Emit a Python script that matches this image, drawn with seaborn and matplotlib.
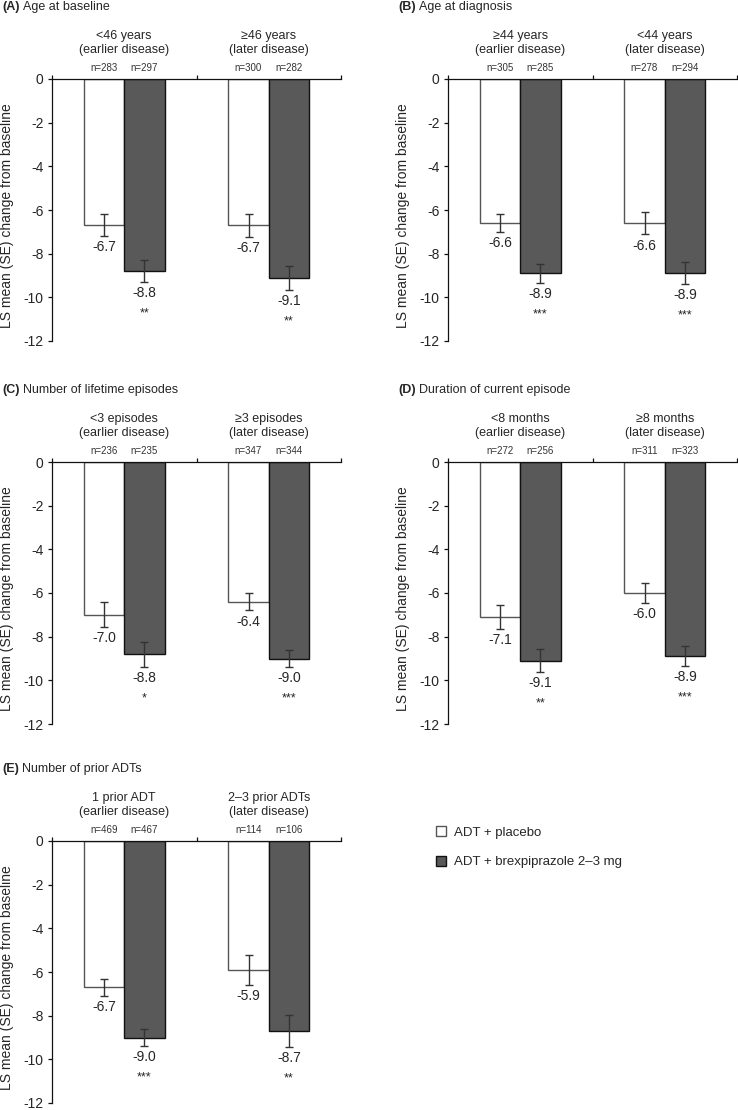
import pandas as pd
import matplotlib
matplotlib.use("Agg")
import matplotlib.pyplot as plt
import seaborn as sns

panel_letters = ["A", "B", "C", "D", "E"]
panel_titles = ["Age at baseline", "Age at diagnosis", "Number of lifetime episodes",
                "Duration of current episode", "Number of prior ADTs"]
group_labels = [
    ["<46 years\n(earlier disease)", "≥46 years\n(later disease)"],
    ["≥44 years\n(earlier disease)", "<44 years\n(later disease)"],
    ["<3 episodes\n(earlier disease)", "≥3 episodes\n(later disease)"],
    ["<8 months\n(earlier disease)", "≥8 months\n(later disease)"],
    ["1 prior ADT\n(earlier disease)", "2–3 prior ADTs\n(later disease)"],
]
arms = ["ADT + placebo", "ADT + brexpiprazole 2–3 mg"]

n_placebo = [[283, 300], [305, 278], [236, 347], [272, 311], [469, 114]]
n_brex = [[297, 282], [285, 294], [235, 344], [256, 323], [467, 106]]
mean_placebo = [[-6.7, -6.7], [-6.6, -6.6], [-7.0, -6.4], [-7.1, -6.0], [-6.7, -5.9]]
mean_brex = [[-8.8, -9.1], [-8.9, -8.9], [-8.8, -9.0], [-9.1, -8.9], [-9.0, -8.7]]
se_placebo = [[0.50, 0.52], [0.42, 0.52], [0.57, 0.40], [0.55, 0.45], [0.40, 0.70]]
se_brex = [[0.50, 0.55], [0.43, 0.50], [0.57, 0.40], [0.52, 0.45], [0.38, 0.72]]
stars = [["**", "**"], ["***", "***"], ["*", "***"], ["**", "***"], ["***", "**"]]

sns.set_style("ticks")
plt.rcParams["font.family"] = ["Liberation Sans", "DejaVu Sans"]
plt.rcParams["axes.unicode_minus"] = False

FS_TICK = 10
FS_VAL = 10
FS_GRP = 9
FS_TITLE = 9
colors = {arms[0]: "white", arms[1]: "#595959"}
edges = ["#555555", "#111111"]

fig = plt.figure(figsize=(7.38, 11.1), dpi=100)
W, H = 738, 1110
ax_w, ax_h = 289, 262
# axes positions in pixels: (left, y of zero line)
pos = [(52, 79), (448, 79), (52, 462), (448, 462), (52, 841)]

handles = None
for i, letter in enumerate(panel_letters):
    left, top = pos[i]
    ax = fig.add_axes([left / W, 1 - (top + ax_h) / H, ax_w / W, ax_h / H])
    df = pd.DataFrame({
        "group": group_labels[i] * 2,
        "arm": [arms[0]] * 2 + [arms[1]] * 2,
        "mean": mean_placebo[i] + mean_brex[i],
        "se": se_placebo[i] + se_brex[i],
        "n": n_placebo[i] + n_brex[i],
    })
    sns.barplot(data=df, x="group", y="mean", hue="arm", palette=colors,
                width=0.56, saturation=1, errorbar=None, legend=False, ax=ax)

    bar_conts = list(ax.containers)
    for k, cont in enumerate(bar_conts):
        sub = df[df["arm"] == arms[k]].reset_index(drop=True)
        for j, bar in enumerate(cont):
            bar.set_edgecolor(edges[k])
            bar.set_linewidth(1.0)
            xc = bar.get_x() + bar.get_width() / 2
            m, s = sub.loc[j, "mean"], sub.loc[j, "se"]
            ax.errorbar(xc, m, yerr=s, fmt="none", ecolor="#333333",
                        elinewidth=1, capsize=2.8, capthick=1)
            ax.annotate(f"{m:.1f}", (xc, m - s), xytext=(0, -3),
                        textcoords="offset points", ha="center", va="top", fontsize=FS_VAL)
            if k == 1:
                ax.annotate(stars[i][j], (xc, m - s), xytext=(0, -18.5),
                            textcoords="offset points", ha="center", va="top", fontsize=9)
            ax.annotate(f"n={sub.loc[j, 'n']}", (xc, 0), xytext=(0, 4),
                        textcoords="offset points", ha="center", va="bottom",
                        fontsize=7, color="#333333")
    handles = [bar_conts[0][0], bar_conts[1][0]]

    for j, lab in enumerate(group_labels[i]):
        ax.annotate(lab, (j, 0), xytext=(0, 16.5), textcoords="offset points",
                    ha="center", va="bottom", fontsize=FS_GRP, linespacing=1.2)

    t1 = ax.text(-50 / ax_w, 1 + 72 / ax_h, f"({letter})", transform=ax.transAxes,
                 fontsize=FS_TITLE, fontweight="bold", va="center", ha="left")
    ax.annotate(panel_titles[i], xy=(1, 0.5), xycoords=t1, xytext=(2.5, 0),
                textcoords="offset points", va="center", ha="left", fontsize=FS_TITLE)

    ax.set_xlim(-0.5, 1.5)
    ax.set_ylim(-12, 0)
    ax.set_yticks(range(-12, 1, 2))
    ax.set_yticklabels([str(v) for v in range(-12, 1, 2)], fontsize=FS_TICK)
    ax.xaxis.tick_top()
    ax.set_xticks([-0.5, 0.5, 1.5])
    ax.set_xticklabels([])
    ax.set_xlabel("")
    ax.set_ylabel("LS mean (SE) change from baseline", fontsize=FS_TICK)
    ax.yaxis.set_label_coords(-38 / ax_w, 0.48)
    for side in ["right", "bottom"]:
        ax.spines[side].set_visible(False)
    for side in ["left", "top"]:
        ax.spines[side].set_linewidth(0.9)
        ax.spines[side].set_color("#111111")
    ax.tick_params(axis="both", length=3, width=0.9, color="#111111", pad=3)

fig.legend(handles, arms, loc="upper left", bbox_to_anchor=(431 / W, 1 - 821 / H),
           frameon=False, fontsize=9.5, handlelength=0.75, handleheight=0.75,
           labelspacing=1.3, handletextpad=0.6, borderaxespad=0)

fig.savefig("out.png", dpi=100)
